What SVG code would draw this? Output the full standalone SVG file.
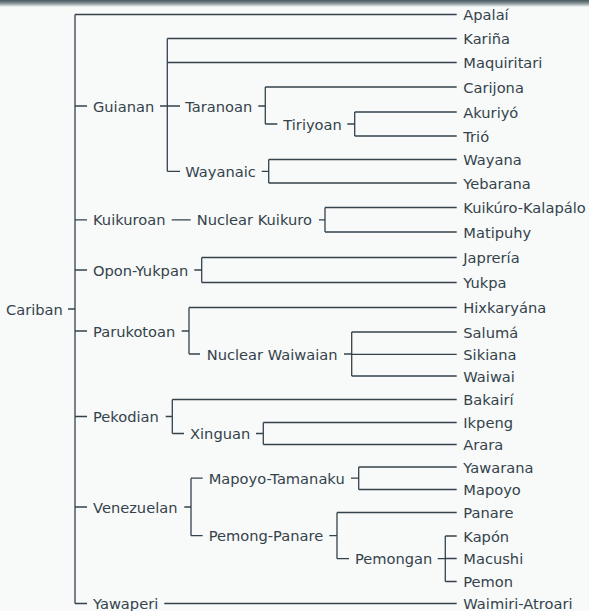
<svg xmlns="http://www.w3.org/2000/svg" width="589" height="611" viewBox="0 0 589 611">
<defs>
<linearGradient id="topbar" x1="0" y1="0" x2="0" y2="1">
<stop offset="0" stop-color="#46565c"/>
<stop offset="0.5" stop-color="#8a979b"/>
<stop offset="1" stop-color="#f8f9f9"/>
</linearGradient>
</defs>
<style>
text{font-family:"DejaVu Sans","Liberation Sans",sans-serif;font-size:14.65px;fill:#34434b}
.e path{fill:none;stroke:#34434b;stroke-width:1.3}
</style>
<rect width="589" height="611" fill="#f8f9f9"/>
<rect width="589" height="7" fill="url(#topbar)"/>
<g class="e" id="connectors">
<path d="M68 309H75M75 14.5V603.5M75 14.5H456.7"/>
<path d="M75 106H87M75 219.8H87M75 270H87M75 331H87M75 416.5H87M75 507H87M75 603.5H87"/>
<path d="M160 106H180M167.3 38.5V171.3M167.3 38.5H456.7M167.3 62.5H456.7M167.3 171.3H180"/>
<path d="M258.3 106H265.3M265.3 87V124M265.3 87H456.7M265.3 124H277.3"/>
<path d="M347.3 124H354.7M354.7 112V136M354.7 112H456.7M354.7 136H456.7"/>
<path d="M261.7 171.3H268.7M268.7 159.5V183M268.7 159.5H456.7M268.7 183H456.7"/>
<path d="M171.7 219.8H190.7M319 219.8H325M325 207.5V232M325 207.5H456.7M325 232H456.7"/>
<path d="M194.3 270H201.7M201.7 257.5V282.5M201.7 257.5H456.7M201.7 282.5H456.7"/>
<path d="M181.7 331H189M189 307.5V354M189 307.5H456.7M189 354H200"/>
<path d="M344 354H351.7M351.7 332V376M351.7 332H456.7M351.7 354.3H456.7M351.7 376H456.7"/>
<path d="M165.7 416.5H172.3M172.3 399.5V433.5M172.3 399.5H456.7M172.3 433.5H184"/>
<path d="M256 433.5H263.3M263.3 422.5V444.5M263.3 422.5H456.7M263.3 444.5H456.7"/>
<path d="M184.3 507H191M191 478.2V535.7M191 478.2H202.7M191 535.7H202.7"/>
<path d="M351 478.2H358.7M358.7 467V489.5M358.7 467H456.7M358.7 489.5H456.7"/>
<path d="M329.3 535.7H337M337 512.5V558.7M337 512.5H456.7M337 558.7H349"/>
<path d="M437.7 558.7H445.3M445.3 536V581.5M445.3 536H456.7M445.3 558.5H456.7M445.3 581.5H456.7"/>
<path d="M164.3 603.5H456.7"/>
</g>
<g id="n-cariban"><text x="6" y="314.5">Cariban</text></g>
<g id="n-guianan"><text x="93" y="111.5">Guianan</text></g>
<g id="n-taranoan"><text x="185.3" y="111.5">Taranoan</text></g>
<g id="n-tiriyoan"><text x="283.3" y="129.5">Tiriyoan</text></g>
<g id="n-wayanaic"><text x="185.3" y="176.8">Wayanaic</text></g>
<g id="n-kuikuroan"><text x="93" y="225.3">Kuikuroan</text></g>
<g id="n-nuclear-kuikuro"><text x="196.7" y="225.3">Nuclear Kuikuro</text></g>
<g id="n-opon-yukpan"><text x="93" y="275.5">Opon-Yukpan</text></g>
<g id="n-parukotoan"><text x="93" y="336.5">Parukotoan</text></g>
<g id="n-nuclear-waiwaian"><text x="206.7" y="359.5">Nuclear Waiwaian</text></g>
<g id="n-pekodian"><text x="93" y="422">Pekodian</text></g>
<g id="n-xinguan"><text x="190" y="439">Xinguan</text></g>
<g id="n-venezuelan"><text x="93" y="512.5">Venezuelan</text></g>
<g id="n-mapoyo-tamanaku"><text x="208.7" y="483.7">Mapoyo-Tamanaku</text></g>
<g id="n-pemong-panare"><text x="208.7" y="541.2">Pemong-Panare</text></g>
<g id="n-pemongan"><text x="355" y="564.2">Pemongan</text></g>
<g id="n-yawaperi"><text x="93" y="609">Yawaperi</text></g>
<g id="n-apalai"><text x="463.3" y="20">Apalaí</text></g>
<g id="n-karina"><text x="463.3" y="44">Kariña</text></g>
<g id="n-maquiritari"><text x="463.3" y="68">Maquiritari</text></g>
<g id="n-carijona"><text x="463.3" y="92.5">Carijona</text></g>
<g id="n-akuriyo"><text x="463.3" y="117.5">Akuriyó</text></g>
<g id="n-trio"><text x="463.3" y="141.5">Trió</text></g>
<g id="n-wayana"><text x="463.3" y="165">Wayana</text></g>
<g id="n-yebarana"><text x="463.3" y="188.5">Yebarana</text></g>
<g id="n-kuikuro-kalapalo"><text x="463.3" y="213">Kuikúro-Kalapálo</text></g>
<g id="n-matipuhy"><text x="463.3" y="237.5">Matipuhy</text></g>
<g id="n-japreria"><text x="463.3" y="263">Japrería</text></g>
<g id="n-yukpa"><text x="463.3" y="288">Yukpa</text></g>
<g id="n-hixkaryana"><text x="463.3" y="313">Hixkaryána</text></g>
<g id="n-saluma"><text x="463.3" y="337.5">Salumá</text></g>
<g id="n-sikiana"><text x="463.3" y="359.8">Sikiana</text></g>
<g id="n-waiwai"><text x="463.3" y="381.5">Waiwai</text></g>
<g id="n-bakairi"><text x="463.3" y="405">Bakairí</text></g>
<g id="n-ikpeng"><text x="463.3" y="428">Ikpeng</text></g>
<g id="n-arara"><text x="463.3" y="450">Arara</text></g>
<g id="n-yawarana"><text x="463.3" y="472.5">Yawarana</text></g>
<g id="n-mapoyo"><text x="463.3" y="495">Mapoyo</text></g>
<g id="n-panare"><text x="463.3" y="518">Panare</text></g>
<g id="n-kapon"><text x="463.3" y="541.5">Kapón</text></g>
<g id="n-macushi"><text x="463.3" y="564">Macushi</text></g>
<g id="n-pemon"><text x="463.3" y="587">Pemon</text></g>
<g id="n-waimiri-atroari"><text x="463.3" y="609">Waimiri-Atroari</text></g>
</svg>
